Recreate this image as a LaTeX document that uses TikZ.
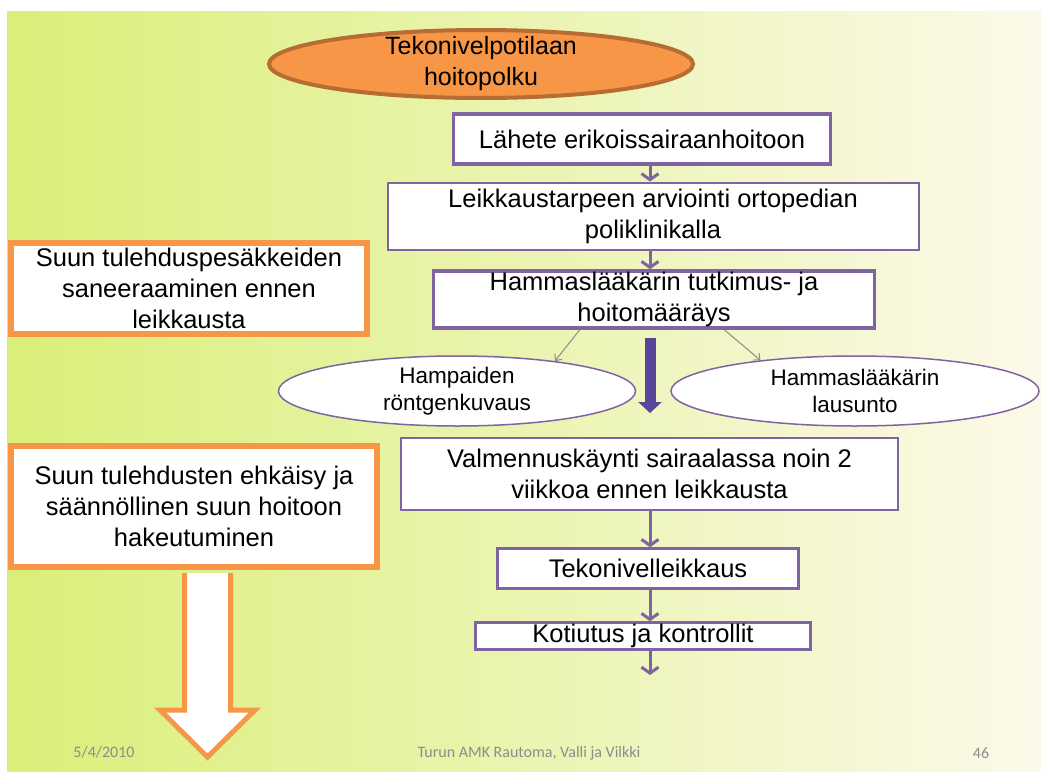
\documentclass[tikz,border=0pt]{standalone}
\usepackage{fontspec}
\setmainfont{Liberation Sans}
\newfontfamily\footfont{Carlito}
\usetikzlibrary{arrows.meta,shapes.geometric,calc}
\definecolor{orangeA}{RGB}{247,150,70}
\definecolor{orangeDark}{RGB}{182,108,50}
\definecolor{purpleA}{RGB}{128,100,162}
\definecolor{purpleDark}{RGB}{88,70,155}
\definecolor{greyLine}{RGB}{140,140,140}
\definecolor{footGrey}{RGB}{140,140,140}
\definecolor{bgLime}{RGB}{217,239,120}
\definecolor{bgMid}{RGB}{245,244,200}
\definecolor{bgCream}{RGB}{252,249,233}
\tikzset{
  flowbox/.style={draw=purpleA, fill=white, inner sep=0pt, align=center, font=\fontsize{25.5}{31}\selectfont},
  sidebox/.style={draw=orangeA, fill=white, line width=6pt, inner sep=0pt, align=center, font=\fontsize{25.5}{31}\selectfont},
  choice/.style={ellipse, draw=purpleA, fill=white, line width=1.5pt, inner xsep=0pt, inner ysep=-12pt, minimum height=70pt, align=center, font=\fontsize{22.5}{27}\selectfont},
  flowarrow/.style={draw=purpleA, line width=3pt, -{Straight Barb[length=6pt,width=17pt]}},
  thinarrow/.style={draw=greyLine, line width=1pt, -{Straight Barb[length=5pt,width=9pt]}},
  thickarrow/.style={draw=purpleDark, line width=11pt, -{Triangle[length=11pt,width=23pt]}},
  bigarrow/.style={draw=orangeA, fill=white, line width=5pt, line join=miter},
  foot/.style={inner sep=0pt, text=footGrey, font=\footfont\fontsize{16}{19}\selectfont}
}

\begin{document}
\begin{tikzpicture}[x=1pt,y=-1pt]
\useasboundingbox (0,0) rectangle (1041,771);
\fill[white] (0,0) rectangle (1041,771);
\shade[left color=bgLime, middle color=bgMid, right color=bgCream] (7,11) rectangle (1041,771);
\node[ellipse, draw=orangeDark, fill=orangeA, line width=4pt, minimum width=424pt, minimum height=68pt, inner xsep=0pt, inner ysep=-14pt, align=center, font=\fontsize{25}{31}\selectfont] (title) at (481,64) {Tekonivelpotilaan\\hoitopolku};
\node[flowbox, line width=3.5pt, minimum width=377pt, minimum height=50pt] (lahete) at (642,139) {Lähete erikoissairaanhoitoon};
\node[flowbox, line width=2pt, minimum width=531pt, minimum height=67pt] (arvio) at (653,216) {Leikkaustarpeen arviointi ortopedian\\poliklinikalla};
\node[flowbox, line width=3.5pt, minimum width=441pt, minimum height=57pt] (hammas) at (654,299.5) {Hammaslääkärin tutkimus- ja\\hoitomääräys};
\node[choice, minimum width=357pt] (rontgen) at (457,391) {Hampaiden\\röntgenkuvaus};
\node[choice, minimum width=368pt] (lausunto) at (855,391) {Hammaslääkärin\\lausunto};
\node[flowbox, line width=2pt, minimum width=497pt, minimum height=72pt] (valmennus) at (649.5,474) {Valmennuskäynti sairaalassa noin 2\\viikkoa ennen leikkausta};
\node[flowbox, line width=2.5pt, minimum width=301pt, minimum height=40pt] (leikkaus) at (648,568.5) {Tekonivelleikkaus};
\node[flowbox, line width=2.5pt, minimum width=335pt, minimum height=27pt] (kotiutus) at (643,636) {Kotiutus ja kontrollit};
\node[sidebox, minimum width=356pt, minimum height=91pt] (saneeraus) at (189,288.5) {Suun tulehduspesäkkeiden\\saneeraaminen ennen\\leikkausta};
\node[sidebox, minimum width=366pt, minimum height=121pt] (ehkaisy) at (194,506.5) {Suun tulehdusten ehkäisy ja\\säännöllinen suun hoitoon\\hakeutuminen};
\coordinate (axis) at (650,0);
\coordinate (end) at (650,675);
\coordinate (bigtip) at (207.5,757);
\draw[flowarrow] (lahete.south -| axis) -- (arvio.north -| axis);
\draw[flowarrow] (arvio.south -| axis) -- (hammas.north -| axis);
\draw[flowarrow] (valmennus.south -| axis) -- (leikkaus.north -| axis);
\draw[flowarrow] (leikkaus.south -| axis) -- (kotiutus.north -| axis);
\draw[flowarrow] (kotiutus.south -| axis) -- (end);
\draw[thinarrow] ($(hammas.south west)!0.333!(hammas.south east)$) -- (rontgen.17.6);
\draw[thinarrow] ($(hammas.south west)!0.658!(hammas.south east)$) -- (lausunto.162.5);
\draw[thickarrow] ($(hammas.south -| axis)+(0,8)$) -- ($(valmennus.north -| axis)+(0,-24)$);
\draw[bigarrow] ($(ehkaisy.south -| bigtip)+(-23,3)$) -- ($(bigtip)+(-23,-47)$) -- ($(bigtip)+(-47.5,-47)$) -- (bigtip) -- ($(bigtip)+(47.5,-47)$) -- ($(bigtip)+(23,-47)$) -- ($(ehkaisy.south -| bigtip)+(23,3)$);
\node[foot] (datum) at (104,752) {5/4/2010};
\node[foot] (tekijat) at (529,753) {Turun AMK Rautoma, Valli ja Vilkki};
\node[foot] (sivu) at (981,753) {46};
\end{tikzpicture}
\end{document}
